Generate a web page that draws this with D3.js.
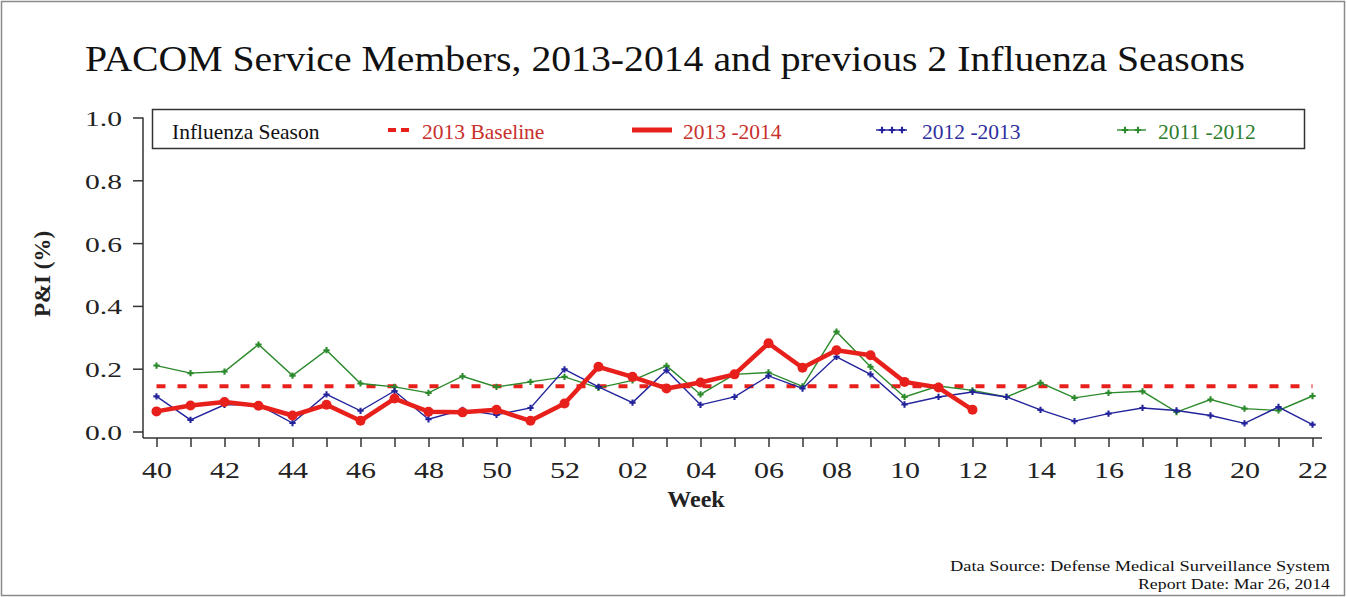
<!DOCTYPE html>
<html>
<head>
<meta charset="utf-8">
<script src="https://cdn.jsdelivr.net/npm/d3@7"></script>
<style>
  body { margin: 0; background: #fff; }
  svg { display: block; }
  text { font-family: 'Liberation Serif', 'Times New Roman', serif; }
</style>
</head>
<body>
<svg id="chart" width="1347" height="597"></svg>
<script>
// Data
//======================================================================================
var weeks = ["40","41","42","43","44","45","46","47","48","49","50","51","52",
             "01","02","03","04","05","06","07","08","09","10","11","12","13",
             "14","15","16","17","18","19","20","21","22"];

var season1314 = [0.064, 0.083, 0.094, 0.082, 0.051, 0.085, 0.034, 0.105, 0.063, 0.061, 0.069, 0.034, 0.089,
                  0.206, 0.174, 0.137, 0.156, 0.182, 0.281, 0.203, 0.259, 0.243, 0.158, 0.140, 0.069];

var season1213 = [0.112, 0.037, 0.085, 0.085, 0.027, 0.118, 0.066, 0.129, 0.039, 0.069, 0.053, 0.075, 0.198,
                  0.142, 0.092, 0.195, 0.085, 0.110, 0.177, 0.137, 0.238, 0.182, 0.086, 0.110, 0.126, 0.110,
                  0.069, 0.033, 0.057, 0.075, 0.067, 0.051, 0.026, 0.078, 0.022];

var season1112 = [0.210, 0.186, 0.191, 0.277, 0.178, 0.259, 0.153, 0.142, 0.123, 0.176, 0.142, 0.158, 0.174,
                  0.139, 0.163, 0.209, 0.118, 0.182, 0.188, 0.144, 0.318, 0.206, 0.110, 0.145, 0.131, 0.110,
                  0.155, 0.107, 0.123, 0.128, 0.062, 0.102, 0.073, 0.067, 0.113];

var baseline2013 = 0.144;

var yTicks = [0.0, 0.2, 0.4, 0.6, 0.8, 1.0];

var legendLabels = ["Influenza Season", "2013 Baseline", "2013 -2014", "2012 -2013", "2011 -2012"];

var RED = "#e8201c", BLUE = "#23239c", GREEN = "#2b8a2b";

// Setup
//======================================================================================
var svg = d3.select("#chart");

var x = d3.scalePoint().domain(weeks).range([156.5, 1312.5]);
var y = d3.scaleLinear().domain([0, 1]).range([431.5, 117.5]);

// outer frame
svg.append("rect")
    .attr("x", 1.5).attr("y", 1.5)
    .attr("width", 1343).attr("height", 594)
    .attr("fill", "none").attr("stroke", "#8a8a8a").attr("stroke-width", 1.5);

// title
svg.append("text")
    .attr("x", 85).attr("y", 71)
    .attr("font-size", 36)
    .attr("textLength", 1160).attr("lengthAdjust", "spacingAndGlyphs")
    .attr("fill", "#111")
    .text("PACOM Service Members, 2013-2014 and previous 2 Influenza Seasons");

// Axes
//======================================================================================
var yAxis = svg.append("g")
    .attr("transform", "translate(143,0)")
    .call(d3.axisLeft(y).tickValues(yTicks).tickSize(10).tickFormat(d3.format(".1f")));

var xAxis = svg.append("g")
    .attr("transform", "translate(0,438)")
    .call(d3.axisBottom(x).tickSize(9).tickFormat(function (d, i) { return i % 2 == 0 ? d : ""; }));

yAxis.select(".domain").remove();
xAxis.select(".domain").remove();
svg.selectAll(".tick line").attr("stroke", "#333").attr("stroke-width", 1.5);

yAxis.selectAll("text")
    .attr("x", -21).attr("dy", "0.36em")
    .attr("font-size", 22).attr("fill", "#222")
    .attr("textLength", 37).attr("lengthAdjust", "spacingAndGlyphs")
    .style("font-family", "'Liberation Serif', serif");

xAxis.selectAll("text")
    .attr("y", 40).attr("dy", 0)
    .attr("font-size", 22.5).attr("fill", "#222")
    .attr("textLength", function (d, i) { return i % 2 == 0 ? 30 : null; })
    .attr("lengthAdjust", "spacingAndGlyphs")
    .style("font-family", "'Liberation Serif', serif");

// axis lines
svg.append("line")
    .attr("x1", 143).attr("x2", 143).attr("y1", y(1)).attr("y2", 438)
    .attr("stroke", "#333").attr("stroke-width", 1.5);
svg.append("line")
    .attr("x1", 143).attr("x2", 1322).attr("y1", 438).attr("y2", 438)
    .attr("stroke", "#333").attr("stroke-width", 1.5);

// axis labels
svg.append("text")
    .attr("x", 696).attr("y", 507)
    .attr("text-anchor", "middle").attr("font-size", 24).attr("font-weight", "bold")
    .attr("fill", "#222")
    .text("Week");

svg.append("text")
    .attr("transform", "translate(50,274) rotate(-90)")
    .attr("text-anchor", "middle").attr("font-size", 23).attr("font-weight", "bold")
    .attr("fill", "#222")
    .text("P&I (%)");

// Lines
//======================================================================================
var line = d3.line()
    .x(function (d, i) { return x(weeks[i]); })
    .y(function (d) { return y(d); });

function plus(g, data, color) {
    g.selectAll(null).data(data).enter().append("path")
        .attr("transform", function (d, i) { return "translate(" + x(weeks[i]) + "," + y(d) + ")"; })
        .attr("d", d3.symbol().type(d3.symbolCross).size(22))
        .attr("fill", color);
}

// baseline
svg.append("line")
    .attr("x1", x(weeks[0])).attr("x2", x(weeks[weeks.length - 1]))
    .attr("y1", y(baseline2013)).attr("y2", y(baseline2013))
    .attr("stroke", RED).attr("stroke-width", 4)
    .attr("stroke-dasharray", "9,12");

var g1112 = svg.append("g");
g1112.append("path").datum(season1112).attr("d", line)
    .attr("fill", "none").attr("stroke", GREEN).attr("stroke-width", 1.4);
plus(g1112, season1112, GREEN);

var g1213 = svg.append("g");
g1213.append("path").datum(season1213).attr("d", line)
    .attr("fill", "none").attr("stroke", BLUE).attr("stroke-width", 1.4);
plus(g1213, season1213, BLUE);

var g1314 = svg.append("g");
g1314.append("path").datum(season1314).attr("d", line)
    .attr("fill", "none").attr("stroke", RED).attr("stroke-width", 4.5)
    .attr("stroke-linejoin", "round");
g1314.selectAll("circle").data(season1314).enter().append("circle")
    .attr("cx", function (d, i) { return x(weeks[i]); })
    .attr("cy", function (d) { return y(d); })
    .attr("r", 5)
    .attr("fill", RED);

// Legend
//======================================================================================
var legend = svg.append("g");
legend.append("rect")
    .attr("x", 152.5).attr("y", 109.5).attr("width", 1152).attr("height", 39)
    .attr("fill", "#fff").attr("stroke", "#333").attr("stroke-width", 1.5);

var legendX = [172, 422, 683, 922, 1158];
var legendColor = ["#111", "#c8302c", "#c8302c", "#2f2fa0", "#2e7d2e"];
legend.selectAll("text").data(legendLabels).enter().append("text")
    .attr("x", function (d, i) { return legendX[i]; })
    .attr("y", 139)
    .attr("font-size", 21.5)
    .attr("fill", function (d, i) { return legendColor[i]; })
    .text(function (d) { return d; });

var ly = 130;
legend.append("line").attr("x1", 388).attr("x2", 411).attr("y1", ly).attr("y2", ly)
    .attr("stroke", RED).attr("stroke-width", 4).attr("stroke-dasharray", "8,5");
legend.append("line").attr("x1", 632).attr("x2", 672).attr("y1", ly).attr("y2", ly)
    .attr("stroke", RED).attr("stroke-width", 5);
legend.append("line").attr("x1", 876).attr("x2", 907).attr("y1", ly).attr("y2", ly)
    .attr("stroke", BLUE).attr("stroke-width", 1.4);
legend.append("line").attr("x1", 1117).attr("x2", 1146).attr("y1", ly).attr("y2", ly)
    .attr("stroke", GREEN).attr("stroke-width", 1.4);
[[882, BLUE], [892, BLUE], [902, BLUE], [1125, GREEN], [1138, GREEN]].forEach(function (m) {
    legend.append("path")
        .attr("transform", "translate(" + m[0] + "," + ly + ")")
        .attr("d", d3.symbol().type(d3.symbolCross).size(22))
        .attr("fill", m[1]);
});

// Footer
//======================================================================================
svg.append("text")
    .attr("x", 1330).attr("y", 571).attr("text-anchor", "end")
    .attr("font-size", 14).attr("fill", "#111")
    .attr("textLength", 380).attr("lengthAdjust", "spacingAndGlyphs")
    .text("Data Source: Defense Medical Surveillance System");
svg.append("text")
    .attr("x", 1330).attr("y", 589).attr("text-anchor", "end")
    .attr("font-size", 14).attr("fill", "#111")
    .attr("textLength", 192).attr("lengthAdjust", "spacingAndGlyphs")
    .text("Report Date: Mar 26, 2014");
</script>
</body>
</html>
